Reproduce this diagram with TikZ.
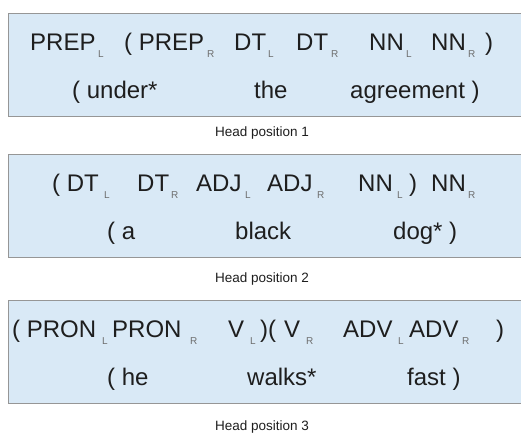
\documentclass[tikz,border=0pt]{standalone}
\usepackage{fontspec}
\setmainfont{Liberation Sans}
\definecolor{panelc}{RGB}{217,233,246}
\definecolor{bordc}{RGB}{150,150,150}
\definecolor{txtc}{RGB}{30,30,30}
\definecolor{subc}{RGB}{110,110,110}
\newcommand\mainfnt{\fontsize{24}{28}\selectfont}
\newcommand\subfnt{\fontsize{10}{12}\selectfont}
\newcommand\lblfnt{\fontsize{13.5}{16}\selectfont}
\tikzset{
  panel/.style={draw=bordc, line width=1.2pt, fill=panelc, anchor=north west,
    minimum width=540pt, minimum height=103pt, inner sep=0pt},
  tok/.style={anchor=base west, inner sep=0pt, font=\mainfnt, text=txtc},
  sb/.style={anchor=base west, inner sep=0pt, font=\subfnt, text=subc},
  lbl/.style={anchor=base, inner sep=0pt, font=\lblfnt, text=txtc}
}
\begin{document}
\begin{tikzpicture}[x=1pt,y=-1pt]
\useasboundingbox (0,0) rectangle (521,434);
\fill[white] (0,0) rectangle (521,434);
% panels
\node[panel] (box1) at (8,13) {};
\node[panel] (box2) at (8,154) {};
\node[panel] (box3) at (8,300) {};
% box 1
\foreach \x/\t [count=\i] in {30/PREP, 124/( PREP, 234/DT, 296/DT, 369/NN, 431/NN, 485/)}
  \node[tok] (a\i) at (\x,50) {\t};
\foreach \x/\t [count=\i] in {98/L, 207/R, 268/L, 331/R, 406/L, 468/R}
  \node[sb] (as\i) at (\x,57) {\t};
\foreach \x/\t [count=\i] in {72/( under*, 254/the, 350/agreement )}
  \node[tok] (aw\i) at (\x,98) {\t};
\node[lbl] (lab1) at (262,136) {Head position 1};
% box 2
\foreach \x/\t [count=\i] in {52/( DT, 137/DT, 196/ADJ, 267/ADJ, 358/NN, 409/), 431/NN}
  \node[tok] (b\i) at (\x,191) {\t};
\foreach \x/\t [count=\i] in {104/L, 171/R, 245/L, 317/R, 397/L, 468/R}
  \node[sb] (bs\i) at (\x,198) {\t};
\foreach \x/\t [count=\i] in {107/( a, 235/black, 393/dog* )}
  \node[tok] (bw\i) at (\x,239) {\t};
\node[lbl] (lab2) at (262,282) {Head position 2};
% box 3
\foreach \x/\t [count=\i] in {12/( PRON, 112/PRON, 228/V, 260/)(, 284/V, 343/ADV, 409/ADV, 496/)}
  \node[tok] (c\i) at (\x,337) {\t};
\foreach \x/\t [count=\i] in {102/L, 190/R, 250/L, 306/R, 398/L, 462/R}
  \node[sb] (cs\i) at (\x,344) {\t};
\foreach \x/\t [count=\i] in {107/( he, 247/walks*, 407/fast )}
  \node[tok] (cw\i) at (\x,385) {\t};
\node[lbl] (lab3) at (262,430) {Head position 3};
\end{tikzpicture}
\end{document}
